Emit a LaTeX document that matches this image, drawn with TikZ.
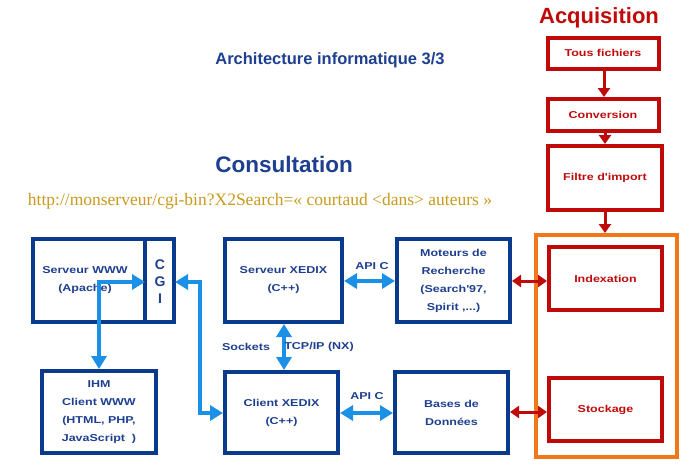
\documentclass[tikz,border=0pt]{standalone}
\usepackage{fontspec}
\setmainfont{Liberation Sans}
\newfontfamily\serifurl{Liberation Serif}
\newfontfamily\widesans[FakeStretch=1.25]{Liberation Sans}
\usetikzlibrary{arrows.meta}
\definecolor{navy}{HTML}{0A3A8C}
\definecolor{navytext}{HTML}{1E3F8F}
\definecolor{lblue}{HTML}{1A90E6}
\definecolor{dred}{HTML}{C00A0A}
\definecolor{orng}{HTML}{F07818}
\definecolor{gold}{HTML}{C89A1E}
\tikzset{
  bbox/.style={draw=navy, line width=4pt, inner sep=0pt},
  rbox/.style={draw=dred, line width=4pt, inner sep=0pt},
  btxt/.style={text=navytext, font=\widesans\bfseries\fontsize{10}{18}\selectfont, align=center},
  rtxt/.style={text=dred, font=\widesans\bfseries\fontsize{10}{12}\selectfont, align=center},
  barrow/.style={draw=lblue, line width=4pt, {Triangle[length=13pt,width=15pt]}-{Triangle[length=13pt,width=15pt]}},
  rarrow/.style={draw=dred, line width=3pt, {Triangle[length=9pt,width=12pt]}-{Triangle[length=9pt,width=12pt]}},
  rarrowone/.style={draw=dred, line width=3pt, -{Triangle[length=9pt,width=12pt]}},
  lbl/.style={text=navytext, font=\widesans\bfseries\fontsize{10}{12}\selectfont}
}
\begin{document}
\begin{tikzpicture}[x=1pt,y=-1pt]
\useasboundingbox (0,0) rectangle (699,475);
% titles
\node[text=dred, font=\bfseries\fontsize{22}{25}\selectfont] (acq) at (599,18) {Acquisition};
\node[text=navytext, font=\bfseries\fontsize{16.5}{19}\selectfont] (arch) at (330,60) {Architecture informatique 3/3};
\node[text=navytext, font=\bfseries\fontsize{22.5}{25}\selectfont] (cons) at (284,164) {Consultation};
\node[text=gold, font=\serifurl\fontsize{17.5}{20}\selectfont, inner sep=0pt] (url) at (260,201) {http://monserveur/cgi-bin?X2Search=« courtaud <dans> auteurs »};
% acquisition chain
\node[rbox, minimum width=111pt, minimum height=31pt] (tous) at (603,53) {};
\node[rtxt] at (tous) {Tous fichiers};
\node[rbox, minimum width=111pt, minimum height=32pt] (conv) at (603,115) {};
\node[rtxt] at (conv) {Conversion};
\node[rbox, minimum width=114pt, minimum height=64pt] (filt) at (605,178) {};
\node[rtxt] at (filt) {Filtre d'import};
\node[draw=orng, line width=4pt, minimum width=141pt, minimum height=222pt, inner sep=0pt] (orange) at (606.5,346) {};
\node[rbox, minimum width=113pt, minimum height=63pt] (idx) at (605.5,278.5) {};
\node[rtxt] at (idx) {Indexation};
\node[rbox, minimum width=113pt, minimum height=63pt] (stock) at (605.5,409.5) {};
\node[rtxt] at (stock) {Stockage};
\draw[rarrowone] (tous.south -| 604,0) -- (conv.north -| 604,0);
\draw[rarrowone] (conv.south -| 605,0) -- (filt.north -| 605,0);
\draw[rarrowone] (filt.south -| 605,0) -- (orange.north -| 605,0);
% consultation boxes
\node[bbox, minimum width=141pt, minimum height=83pt] (www) at (103.5,280.5) {};
\node[btxt] (wwwt) at (85,280) {Serveur WWW\\(Apache)};
\coordinate (cgil) at (145,282);
\coordinate (cgir) at (175,282);
\draw[navy, line width=4pt] (145,239) -- (145,322);
\node[text=navytext, font=\bfseries\fontsize{14}{17}\selectfont, align=center] (cgi) at (160,282) {C\\G\\I};
\node[bbox, minimum width=117pt, minimum height=83pt] (sx) at (283.5,280.5) {};
\node[btxt] at (sx) {Serveur XEDIX\\(C++)};
\node[bbox, minimum width=113pt, minimum height=83pt] (mot) at (453.5,280.5) {};
\node[btxt] at (mot) {Moteurs de\\Recherche\\(Search'97,\\Spirit ,...)};
\node[bbox, minimum width=114pt, minimum height=82pt] (ihm) at (99,412) {};
\node[btxt] at (ihm) {IHM\\Client WWW\\(HTML, PHP,\\JavaScript\ \ )};
\node[bbox, minimum width=113pt, minimum height=81pt] (cx) at (281.5,412.5) {};
\node[btxt] at (cx) {Client XEDIX\\(C++)};
\node[bbox, minimum width=113pt, minimum height=81pt] (bdd) at (451.5,412.5) {};
\node[btxt] at (bdd) {Bases de\\Données};
% blue connectors
\draw[barrow] (ihm.north -| 99,0) -- (99,282) -- (cgil);
\draw[barrow] (cgir) -- (200,282) -- (200,413) -- (cx.west |- 0,413);
\draw[barrow] (sx.south -| 284,0) -- (cx.north -| 284,0);
\draw[barrow] (sx.east |- 0,281) -- (mot.west |- 0,281);
\draw[barrow] (cx.east |- 0,413) -- (bdd.west |- 0,413);
\node[lbl] (apic1) at (372,266) {API C};
\node[lbl] (apic2) at (367,396) {API C};
\node[lbl] (sock) at (246,347) {Sockets};
\node[lbl] (tcp) at (319,347) {TCP/IP (NX)};
% red connectors
\draw[rarrow] (mot.east |- 0,281) -- (idx.west |- 0,281);
\draw[rarrow] (bdd.east |- 0,412) -- (stock.west |- 0,412);
\end{tikzpicture}
\end{document}
